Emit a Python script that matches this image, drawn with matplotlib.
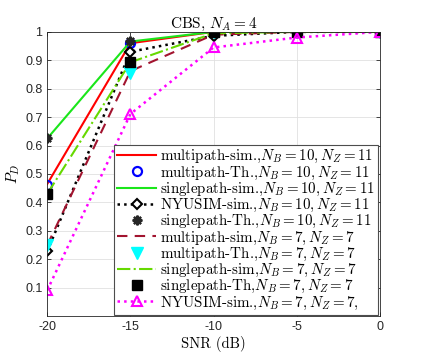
import matplotlib
matplotlib.use("Agg")
import matplotlib.pyplot as plt

plt.rcParams['mathtext.fontset'] = 'cm'
plt.rcParams['axes.unicode_minus'] = False

snr = [-20, -15, -10, -5, 0]
labels = [
    r"multipath-sim.,$N_B=10,N_Z=11$",
    r"multipath-Th.,$N_B=10,N_Z=11$",
    r"singlepath-sim.,$N_B=10,N_Z=11$",
    r"NYUSIM-sim.,$N_B=10,N_Z=11$",
    r"singlepath-Th.,$N_B=10,N_Z=11$",
    r"multipath-sim,$N_B=7,N_Z=7$",
    r"multipath-Th.,$N_B=7,N_Z=7$",
    r"singlepath-sim,$N_B=7,N_Z=7$",
    r"singlepath-Th,$N_B=7,N_Z=7$",
    r"NYUSIM-sim.,$N_B=7,N_Z=7$,",
]
mp_sim_10 = [0.465, 0.960, 1.0, 1.0, 1.0]
mp_th_10 = [0.463, 0.960, 1.0, 1.0, 1.0]
sp_sim_10 = [0.625, 0.966, 1.0, 1.0, 1.0]
ny_sim_10 = [0.228, 0.930, 0.986, 1.0, 1.0]
sp_th_10 = [0.627, 0.968, 1.0, 1.0, 1.0]
mp_sim_7 = [0.25, 0.862, 0.99, 1.0, 1.0]
mp_th_7 = [0.249, 0.857, 1.0, 1.0, 1.0]
sp_sim_7 = [0.43, 0.893, 0.995, 1.0, 1.0]
sp_th_7 = [0.43, 0.893, 1.0, 1.0, 1.0]
ny_sim_7 = [0.091, 0.711, 0.945, 0.98, 1.0]

fig = plt.figure(figsize=(4.22, 3.54), dpi=100)
ax = fig.add_axes([0.112, 0.107, 0.788, 0.803])

ax.plot(snr, mp_sim_10, '-', color=(1, 0, 0), lw=1.5, label=labels[0])
ax.plot(snr, mp_th_10, 'o', color=(0, 0, 1), mfc='none', mew=1.6, ms=6.5, ls='none', label=labels[1])
ax.plot(snr, sp_sim_10, '-', color=(0.1, 0.9, 0.1), lw=1.5, label=labels[2])
ax.plot(snr, ny_sim_10, ':', color='k', lw=1.8, marker='D', ms=5, mfc='white', mew=1.5, label=labels[3])
ax.plot(snr, sp_th_10, ls='none', marker=(8, 2, 0), color=(0.15, 0.15, 0.15), ms=7, mew=1.6, label=labels[4])
ax.plot(snr, mp_sim_7, '--', color=(0.635, 0.078, 0.184), lw=1.5, dashes=(5, 3.5), label=labels[5])
ax.plot(snr, mp_th_7, ls='none', marker='v', color=(0, 1, 1), ms=8, label=labels[6])
ax.plot(snr, sp_sim_7, '-.', color=(0.4, 0.85, 0.0), lw=1.5, label=labels[7])
ax.plot(snr, sp_th_7, ls='none', marker='s', color='k', ms=6.5, label=labels[8])
ax.plot(snr, ny_sim_7, ':', color=(1, 0, 1), lw=1.8, marker='^', ms=7, mfc='none', mew=1.5, label=labels[9])

ax.set_xlim(-20, 0)
ax.set_ylim(0.0, 1.0)
ax.set_xticks([-20, -15, -10, -5, 0])
ax.set_yticks([0.1, 0.2, 0.3, 0.4, 0.5, 0.6, 0.7, 0.8, 0.9, 1.0])
ax.set_yticklabels(['0.1', '0.2', '0.3', '0.4', '0.5', '0.6', '0.7', '0.8', '0.9', '1'])
ax.set_xticklabels(['-20', '-15', '-10', '-5', '0'])
for t in ax.get_xticklabels() + ax.get_yticklabels():
    t.set_fontfamily('Liberation Sans')
    t.set_fontsize(9)
ax.tick_params(direction='in', length=3, top=True, right=True, width=0.6, colors='#262626')
ax.grid(True, color='#e0e0e0', lw=0.6)
ax.set_axisbelow(True)
for s in ax.spines.values():
    s.set_color('#262626')
    s.set_linewidth(0.6)

ax.set_title(r"CBS, $N_A=4$", fontfamily='cmr10', fontsize=11, pad=3)
ax.set_xlabel("SNR (dB)", fontfamily='cmr10', fontsize=10.5, labelpad=2)
ax.set_ylabel(r"$P_D$", fontsize=11, labelpad=2)

leg = ax.legend(loc='lower right', prop={'family': 'cmr10', 'size': 10.8},
                handlelength=2.6, handletextpad=0.27, labelspacing=-0.06,
                borderpad=0.2, borderaxespad=0.1, fancybox=False,
                framealpha=1, edgecolor='#4d4d4d')
leg.get_frame().set_linewidth(0.8)

fig.savefig("out.png", dpi=100)
